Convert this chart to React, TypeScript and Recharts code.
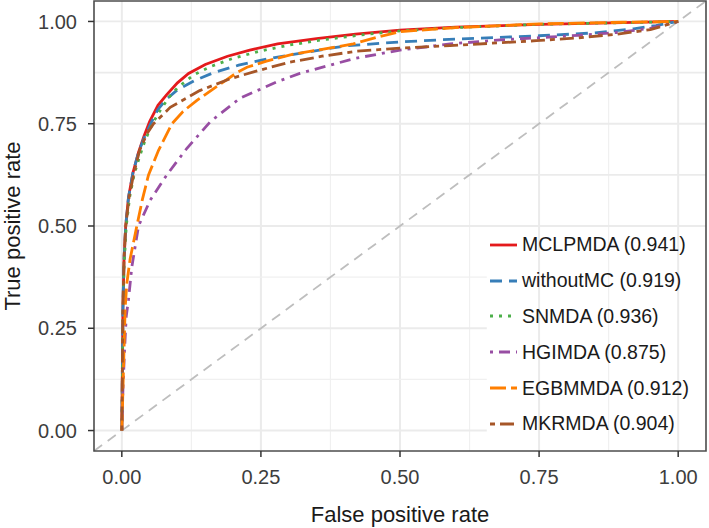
import React from "react";
import {
  LineChart,
  Line,
  XAxis,
  YAxis,
  CartesianGrid,
  ReferenceLine,
  ReferenceArea,
  Legend,
  Label,
} from "recharts";

const FONT = "'Liberation Sans', Arial, Helvetica, sans-serif";

// series names, AUC values and styles
const seriesNames = ["MCLPMDA", "withoutMC", "SNMDA", "HGIMDA", "EGBMMDA", "MKRMDA"];
const aucValues = ["0.941", "0.919", "0.936", "0.875", "0.912", "0.904"];
const colors = ["#e41a1c", "#377eb8", "#4daf4a", "#984ea3", "#ff7f00", "#a65628"];
const dashes = ["", "12 7", "3 6", "3 6 11 6", "16 5", "5 5 14 5"];

// ROC points: [false positive rate, true positive rate]
const mclpmda = [
  [0, 0], [0.001, 0.15], [0.002, 0.3], [0.004, 0.42], [0.007, 0.5], [0.012, 0.57],
  [0.02, 0.63], [0.03, 0.68], [0.04, 0.72], [0.05, 0.755], [0.065, 0.795], [0.08, 0.82],
  [0.1, 0.85], [0.12, 0.873], [0.15, 0.895], [0.19, 0.915], [0.23, 0.93], [0.28, 0.945],
  [0.35, 0.958], [0.42, 0.969], [0.5, 0.979], [0.6, 0.986], [0.75, 0.993], [0.9, 0.997], [1, 1],
];
const withoutMC = [
  [0, 0], [0.001, 0.15], [0.002, 0.3], [0.004, 0.42], [0.007, 0.5], [0.012, 0.57],
  [0.02, 0.63], [0.03, 0.68], [0.04, 0.715], [0.052, 0.75], [0.065, 0.785], [0.08, 0.81],
  [0.1, 0.833], [0.13, 0.855], [0.165, 0.875], [0.21, 0.893], [0.26, 0.908], [0.32, 0.922],
  [0.4, 0.94], [0.5, 0.95], [0.6, 0.957], [0.75, 0.965], [0.85, 0.972], [0.92, 0.982],
  [0.96, 0.99], [1, 1],
];
const snmda = [
  [0, 0], [0.001, 0.12], [0.002, 0.28], [0.004, 0.4], [0.008, 0.5], [0.014, 0.57],
  [0.022, 0.625], [0.032, 0.67], [0.042, 0.71], [0.055, 0.75], [0.07, 0.785], [0.085, 0.815],
  [0.1, 0.838], [0.13, 0.87], [0.16, 0.89], [0.2, 0.91], [0.25, 0.928], [0.3, 0.942],
  [0.36, 0.955], [0.43, 0.967], [0.5, 0.977], [0.6, 0.985], [0.75, 0.993], [0.9, 0.997], [1, 1],
];
const hgimda = [
  [0, 0], [0.002, 0.1], [0.005, 0.2], [0.008, 0.28], [0.012, 0.32], [0.018, 0.4],
  [0.03, 0.5], [0.051, 0.563], [0.081, 0.625], [0.117, 0.69], [0.159, 0.755], [0.212, 0.812],
  [0.278, 0.852], [0.32, 0.873], [0.374, 0.893], [0.42, 0.91], [0.5, 0.93], [0.59, 0.945],
  [0.68, 0.955], [0.745, 0.96], [0.82, 0.966], [0.889, 0.973], [0.95, 0.983], [1, 1],
];
const egbmmda = [
  [0, 0], [0.002, 0.1], [0.004, 0.2], [0.006, 0.3], [0.009, 0.36], [0.015, 0.42],
  [0.027, 0.5], [0.037, 0.565], [0.048, 0.625], [0.066, 0.685], [0.09, 0.75], [0.11, 0.78],
  [0.135, 0.807], [0.177, 0.847], [0.207, 0.875], [0.225, 0.888], [0.26, 0.903], [0.308, 0.92],
  [0.36, 0.932], [0.416, 0.945], [0.46, 0.962], [0.5, 0.975], [0.6, 0.985], [0.75, 0.994],
  [0.9, 0.998], [1, 1],
];
const mkrmda = [
  [0, 0], [0.001, 0.15], [0.002, 0.3], [0.004, 0.42], [0.007, 0.5], [0.013, 0.57],
  [0.021, 0.625], [0.032, 0.685], [0.045, 0.725], [0.057, 0.75], [0.087, 0.79], [0.14, 0.831],
  [0.195, 0.86], [0.24, 0.878], [0.3, 0.9], [0.36, 0.915], [0.42, 0.927], [0.5, 0.935],
  [0.59, 0.941], [0.68, 0.948], [0.745, 0.953], [0.82, 0.96], [0.89, 0.969], [0.95, 0.98], [1, 1],
];

const curves = [mclpmda, withoutMC, snmda, hgimda, egbmmda, mkrmda];

const majorTicks = [0, 0.25, 0.5, 0.75, 1];
const minorTicks = [0.125, 0.375, 0.625, 0.875];
const upperHLines = [0.5, 0.625, 0.75, 0.875, 1];
const lowerHLines = [0, 0.125, 0.25, 0.375];
const DOMAIN: [number, number] = [-0.05, 1.05];
const LEGEND_LEFT_X = 0.656;

const toRows = (pts: number[][]) => pts.map(([x, y]) => ({ x, y }));

const scaleX = (props: any, vals: number[]) => {
  const s = props?.xAxis?.scale;
  if (typeof s === "function") return vals.map((v) => s(v));
  const { left, width } = props.offset;
  return vals.map((v) => left + ((v - DOMAIN[0]) / (DOMAIN[1] - DOMAIN[0])) * width);
};
const scaleY = (props: any, vals: number[]) => {
  const s = props?.yAxis?.scale;
  if (typeof s === "function") return vals.map((v) => s(v));
  const { top, height } = props.offset;
  return vals.map((v) => top + ((DOMAIN[1] - v) / (DOMAIN[1] - DOMAIN[0])) * height);
};

const LegendBox = () => (
  <div style={{ fontFamily: FONT, fontSize: 19.5, color: "#1a1a1a" }}>
    {seriesNames.map((name, i) => (
      <div key={name} style={{ height: 35.8, display: "flex", alignItems: "center", whiteSpace: "nowrap" }}>
        <svg width={27} height={10} style={{ display: "block" }}>
          <line x1={0} y1={5} x2={27} y2={5} stroke={colors[i]} strokeWidth={2.8} strokeDasharray={dashes[i] || undefined} />
        </svg>
        <span style={{ marginLeft: 5 }}>
          {name} ({aucValues[i]})
        </span>
      </div>
    ))}
  </div>
);

export default function App() {
  return (
    <div style={{ position: "absolute", left: 0, top: 0, width: 709, height: 528, background: "#fff" }}>
      <LineChart width={709} height={528} margin={{ top: 1, right: 3, bottom: 0, left: 0 }}>
        <CartesianGrid
          horizontal={false}
          stroke="#f0f0f0"
          strokeWidth={1.2}
          verticalCoordinatesGenerator={(p: any) => scaleX(p, minorTicks)}
        />
        <CartesianGrid
          horizontal={false}
          stroke="#ebebeb"
          strokeWidth={2}
          verticalCoordinatesGenerator={(p: any) => scaleX(p, majorTicks)}
        />
        <CartesianGrid
          vertical={false}
          stroke="#ebebeb"
          strokeWidth={1.8}
          horizontalCoordinatesGenerator={(p: any) => scaleY(p, upperHLines)}
        />
        {lowerHLines.map((v) => (
          <ReferenceLine
            key={"h" + v}
            segment={[{ x: DOMAIN[0], y: v }, { x: LEGEND_LEFT_X, y: v }]}
            stroke={v * 4 === Math.round(v * 4) ? "#ebebeb" : "#f0f0f0"}
            strokeWidth={v * 4 === Math.round(v * 4) ? 2 : 1.2}
            zIndex={-50}
          />
        ))}
        <XAxis
          type="number"
          dataKey="x"
          domain={DOMAIN}
          ticks={majorTicks}
          allowDataOverflow
          tickFormatter={(v: number) => v.toFixed(2)}
          height={77}
          axisLine={false}
          tickSize={6}
          tickMargin={13}
          tickLine={{ stroke: "#333", strokeWidth: 1.5 }}
          tick={{ fill: "#3d3d3d", fontSize: 20, fontFamily: FONT }}
        >
          <Label
            value="False positive rate"
            position="insideBottom"
            offset={6}
            style={{ fill: "#1a1a1a", fontSize: 22, fontFamily: FONT }}
          />
        </XAxis>
        <YAxis
          type="number"
          dataKey="y"
          domain={DOMAIN}
          ticks={majorTicks}
          allowDataOverflow
          tickFormatter={(v: number) => v.toFixed(2)}
          width={94}
          axisLine={false}
          tickSize={6}
          tickMargin={11}
          tickLine={{ stroke: "#333", strokeWidth: 1.5 }}
          tick={{ fill: "#3d3d3d", fontSize: 20, fontFamily: FONT }}
        >
          <Label
            content={(props: any) => {
              const vb = props.viewBox || { x: 0, y: 1, height: 450 };
              const cx = vb.x + 19.5;
              const cy = vb.y + vb.height / 2;
              return (
                <text
                  x={cx}
                  y={cy}
                  transform={`rotate(-90 ${cx} ${cy})`}
                  textAnchor="middle"
                  fill="#1a1a1a"
                  fontSize={22}
                  fontFamily={FONT}
                >
                  True positive rate
                </text>
              );
            }}
          />
        </YAxis>
        <ReferenceLine
          segment={[{ x: DOMAIN[0], y: DOMAIN[0] }, { x: DOMAIN[1], y: DOMAIN[1] }]}
          stroke="#bebebe"
          strokeWidth={1.8}
          strokeDasharray="10 7"
          zIndex={-40}
        />
        {curves.map((pts, i) => (
          <Line
            key={seriesNames[i]}
            data={toRows(pts)}
            dataKey="y"
            name={seriesNames[i]}
            stroke={colors[i]}
            strokeWidth={2.8}
            strokeDasharray={dashes[i] || undefined}
            dot={false}
            activeDot={false}
            type="linear"
            isAnimationActive={false}
          />
        ))}
        <ReferenceArea
          x1={DOMAIN[0]}
          x2={DOMAIN[1]}
          y1={DOMAIN[0]}
          y2={DOMAIN[1]}
          fill="none"
          fillOpacity={0}
          stroke="#4d4d4d"
          strokeWidth={1.6}
          ifOverflow="visible"
        />
        <Legend
          layout="horizontal"
          verticalAlign="middle"
          align="center"
          content={() => <LegendBox />}
          wrapperStyle={{ position: "absolute", left: 490, top: 227, width: 220, height: 215 }}
        />
      </LineChart>
    </div>
  );
}
